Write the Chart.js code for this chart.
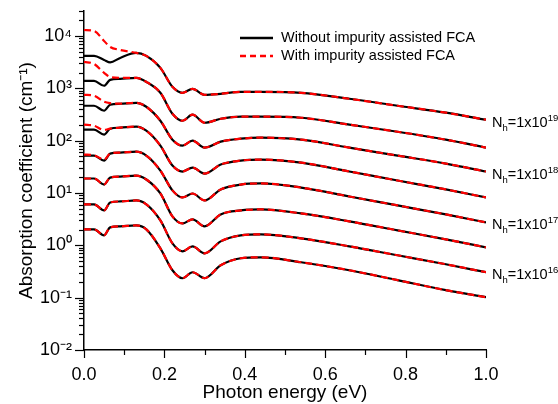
<!DOCTYPE html>
<html>
<head>
<meta charset="utf-8">
<script src="https://cdn.jsdelivr.net/npm/chart.js@4.4.1/dist/chart.umd.min.js"></script>
<style>
html,body{margin:0;padding:0;background:#fff;}
#wrap{width:558px;height:404px;}
</style>
</head>
<body>
<div id="wrap"><canvas id="c" width="558" height="404"></canvas></div>
<script>
// Photon energy (eV)
const energy = [0,0.025,0.05,0.065,0.09,0.13,0.155,0.19,0.22,0.245,0.27,0.30,0.34,0.39,0.44,0.54,0.66,0.78,0.9,1.0];

// Without impurity assisted FCA (black solid), top curve to bottom curve (cm^-1)
const without1 = [4160,4160,3490,3130,3810,4740,4160,2460,1070,821,978,752,786,858,858,821,631,464,342,251];
const without2 = [1390,1390,1120,1450,1520,1585,1330,821,327,240,313,220,262,287,287,274,202,148,104.5,73.6];
const without3 = [464,464,373,485,507,529,444,240,104.5,80.3,100,73.6,95.7,109,114,104.5,73.6,51.8,36.5,25.7];
const without4 = [162,162,130,169,177,185,155,80.3,33.4,25.7,30.6,23.5,34.9,41.6,43.5,38.1,25.7,17.3,11.7,8.21];
const without5 = [51.8,51.8,41.6,56.6,59.1,61.7,51.8,26.8,11.2,8.21,9.78,7.2,11.7,14.5,15.2,12.7,8.58,5.78,3.9,2.74];
const without6 = [18.9,18.9,14.5,19.7,20.6,21.5,18.1,9.78,3.57,2.62,3.13,2.3,3.9,4.64,4.85,4.07,2.87,1.93,1.3,0.916];
const without7 = [6.04,6.04,4.64,6.59,6.89,7.2,6.04,2.99,1.09,0.769,0.957,0.704,1.19,1.55,1.62,1.36,0.957,0.645,0.435,0.306];
const without8 = [2.02,2.02,1.55,2.2,2.3,2.4,2.02,0.877,0.334,0.235,0.306,0.235,0.416,0.566,0.591,0.475,0.334,0.216,0.139,0.102];

// With impurity assisted FCA (red dashed), top curve to bottom curve (cm^-1)
const with1 = [13000,12450,8030,6170,5410,4740,4160,2460,1070,821,978,752,786,858,858,821,631,464,342,251];
const with2 = [3200,2930,1970,1650,1590,1585,1330,821,327,240,313,220,262,287,287,274,202,148,104.5,73.6];
const with3 = [752,720,553,520,510,529,444,240,104.5,80.3,100,73.6,95.7,109,114,104.5,73.6,51.8,36.5,25.7];
const with4 = [202,193,160,170,177,185,155,80.3,33.4,25.7,30.6,23.5,34.9,41.6,43.5,38.1,25.7,17.3,11.7,8.21];
const with5 = [54.1,52.5,43.5,56.6,59.1,61.7,51.8,26.8,11.2,8.21,9.78,7.2,11.7,14.5,15.2,12.7,8.58,5.78,3.9,2.74];
const with6 = [18.9,18.9,14.5,19.7,20.6,21.5,18.1,9.78,3.57,2.62,3.13,2.3,3.9,4.64,4.85,4.07,2.87,1.93,1.3,0.916];
const with7 = [6.04,6.04,4.64,6.59,6.89,7.2,6.04,2.99,1.09,0.769,0.957,0.704,1.19,1.55,1.62,1.36,0.957,0.645,0.435,0.306];
const with8 = [2.02,2.02,1.55,2.2,2.3,2.4,2.02,0.877,0.334,0.235,0.306,0.235,0.416,0.566,0.591,0.475,0.334,0.216,0.139,0.102];

// Curve labels (exponent of N_h) attached to curves 1,3,5,7
const curveExponents = ['19', null, '18', null, '17', null, '16', null];

// Axis tick labels
const yTickValues = [0.01, 0.1, 1, 10, 100, 1000, 10000];
const yTickLabels = ['10\u207B\u00B2', '10\u207B\u00B9', '10\u2070', '10\u00B9', '10\u00B2', '10\u00B3', '10\u2074'];
const legendLabels = ['Without impurity assisted FCA', 'With impurity assisted FCA'];

const FONT = "'Liberation Sans', Arial, Helvetica, sans-serif";
const withoutSeries = [without1, without2, without3, without4, without5, without6, without7, without8];
const withSeries = [with1, with2, with3, with4, with5, with6, with7, with8];

const toPts = arr => arr.map((v, i) => ({x: energy[i], y: v}));
const datasets = [];
withSeries.forEach((s, i) => datasets.push({
  label: legendLabels[1] + ' ' + (i + 1), data: toPts(s),
  borderColor: '#ff0000', borderWidth: 2.2, borderDash: [7, 4],
  cubicInterpolationMode: 'monotone', pointRadius: 0, fill: false
}));
withoutSeries.forEach((s, i) => datasets.push({
  label: legendLabels[0] + ' ' + (i + 1), data: toPts(s),
  borderColor: '#000000', borderWidth: 2.2,
  cubicInterpolationMode: 'monotone', pointRadius: 0, fill: false
}));

const annotate = {
  id: 'annotate',
  afterDraw(chart) {
    const ctx = chart.ctx, xs = chart.scales.x, ys = chart.scales.y;
    ctx.save();
    ctx.strokeStyle = '#000';
    ctx.lineWidth = 1.2;
    // y tick marks (outward)
    for (let d = -2; d <= 4; d++) {
      for (let m = 1; m <= 9; m++) {
        const v = m * Math.pow(10, d);
        if (v > ys.max * 1.0001) break;
        const py = Math.round(ys.getPixelForValue(v)) + 0.5;
        const len = m === 1 ? 9 : 5;
        ctx.beginPath(); ctx.moveTo(xs.left - len, py); ctx.lineTo(xs.left, py); ctx.stroke();
      }
    }
    // x tick marks (outward)
    for (let i = 0; i <= 10; i++) {
      const px = Math.round(xs.getPixelForValue(i / 10)) + 0.5;
      const len = i % 2 === 0 ? 8 : 5;
      ctx.beginPath(); ctx.moveTo(px, ys.bottom); ctx.lineTo(px, ys.bottom + len); ctx.stroke();
    }
    // legend
    ctx.font = '14.5px ' + FONT;
    ctx.fillStyle = '#000';
    ctx.textBaseline = 'middle';
    ctx.textAlign = 'left';
    ctx.lineWidth = 2.5;
    ctx.strokeStyle = '#000';
    ctx.beginPath(); ctx.moveTo(240, 38); ctx.lineTo(273, 38); ctx.stroke();
    ctx.fillText(legendLabels[0], 281, 38);
    ctx.strokeStyle = '#ff0000';
    ctx.setLineDash([6, 4]);
    ctx.beginPath(); ctx.moveTo(240, 56); ctx.lineTo(273, 56); ctx.stroke();
    ctx.setLineDash([]);
    ctx.fillText(legendLabels[1], 281, 56);
    // N_h labels
    ctx.textBaseline = 'alphabetic';
    curveExponents.forEach((e, i) => {
      if (!e) return;
      const s = withoutSeries[i];
      const yb = ys.getPixelForValue(s[s.length - 1]) + 7;
      let x = xs.right + 6;
      ctx.font = '14.5px ' + FONT;
      ctx.fillText('N', x, yb); x += ctx.measureText('N').width;
      ctx.font = '9.5px ' + FONT;
      ctx.fillText('h', x, yb + 4); x += ctx.measureText('h').width;
      ctx.font = '14.5px ' + FONT;
      ctx.fillText('=1x10', x, yb); x += ctx.measureText('=1x10').width;
      ctx.font = '9.5px ' + FONT;
      ctx.fillText(e, x, yb - 6);
    });
    ctx.restore();
  }
};

new Chart(document.getElementById('c'), {
  type: 'line',
  data: {datasets},
  plugins: [annotate],
  options: {
    responsive: false,
    animation: false,
    devicePixelRatio: 1,
    layout: {padding: {left: 0, right: 72, top: 11, bottom: 0}},
    plugins: {legend: {display: false}, tooltip: {enabled: false}},
    scales: {
      x: {
        type: 'linear', min: 0, max: 1, position: 'bottom',
        grid: {display: false, drawTicks: false},
        border: {display: true, color: '#000', width: 1.5},
        ticks: {stepSize: 0.2, color: '#000', font: {family: FONT, size: 18}, padding: 14, maxRotation: 0,
                callback: v => Number(v).toFixed(1)},
        title: {display: true, text: 'Photon energy (eV)', color: '#000', font: {family: FONT, size: 19}, padding: {top: 0, bottom: 0}},
        afterFit(s) { s.height = 54; s.paddingLeft = 0; s.paddingRight = 0; }
      },
      y: {
        type: 'logarithmic', min: 0.01, max: 30000, position: 'left',
        grid: {display: false, drawTicks: false},
        border: {display: true, color: '#000', width: 1.5},
        afterBuildTicks(s) { s.ticks = yTickValues.map(v => ({value: v, major: true})); },
        ticks: {color: '#000', font: {family: FONT, size: 18}, padding: 12,
                callback: (v) => { const i = yTickValues.findIndex(t => Math.abs(t - v) / t < 1e-6); return i >= 0 ? yTickLabels[i] : ''; }},
        title: {display: true, text: 'Absorption coefficient (cm\u207B\u00B9)', color: '#000', font: {family: FONT, size: 19}, padding: {top: 15, bottom: 0}},
        afterFit(s) { s.width = 84; s.paddingTop = 0; s.paddingBottom = 0; }
      }
    }
  }
});
</script>
</body>
</html>
